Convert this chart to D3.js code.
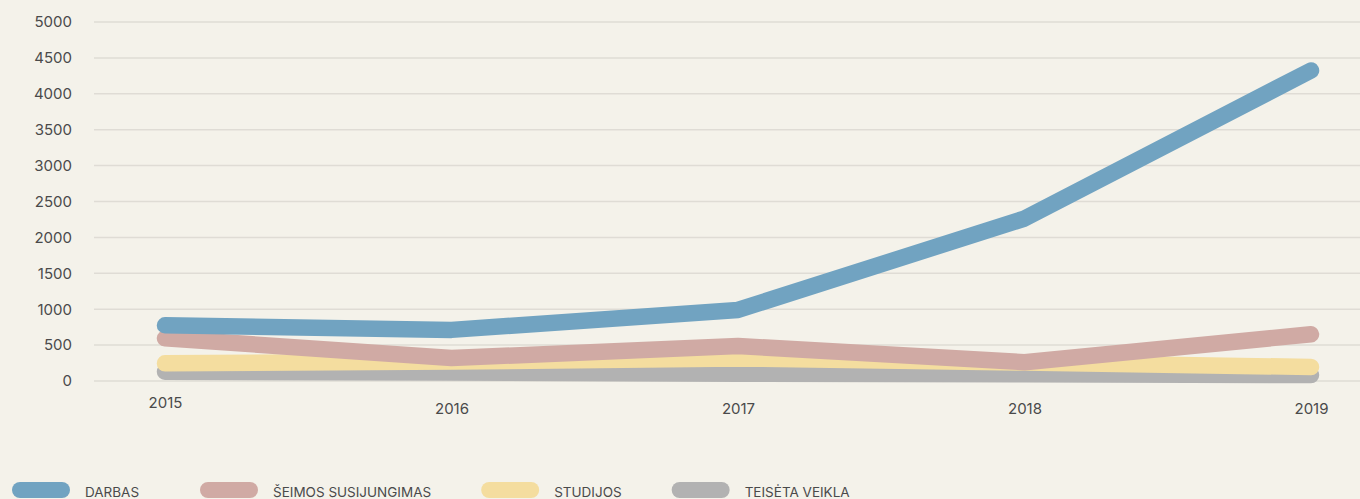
<!DOCTYPE html>
<html>
<head>
<meta charset="utf-8">
<script src="https://cdn.jsdelivr.net/npm/d3@7"></script>
<style>
  html, body { margin: 0; padding: 0; background: #f4f2ea; }
  svg { display: block; font-family: Inter, "Open Sans", sans-serif; }
</style>
</head>
<body>
<div id="chart"></div>
<script>
// metai
const years = ["2015", "2016", "2017", "2018", "2019"];
const yTicks = [0, 500, 1000, 1500, 2000, 2500, 3000, 3500, 4000, 4500, 5000];

const seriesNames = ["DARBAS", "ŠEIMOS SUSIJUNGIMAS", "STUDIJOS", "TEISĖTA VEIKLA"];
const seriesColors = ["#71a3c1", "#d0aaa4", "#f4dd9f", "#b2b2b2"];

const darbas = [775, 712, 990, 2263, 4325];
const seimos = [594, 320, 487, 262, 650];
const studijos = [246, 270, 315, 257, 195];
const teiseta = [129, 118, 100, 95, 83];

const allValues = [darbas, seimos, studijos, teiseta];

const W = 1360, H = 499;

const svg = d3.select("#chart").append("svg")
    .attr("width", W)
    .attr("height", H);

const x = d3.scalePoint()
    .domain(years)
    .range([165, 1311]);

const y = d3.scaleLinear()
    .domain([0, 5000])
    .range([381, 22]);

// tinklelis
svg.append("g")
    .selectAll("line")
    .data(yTicks)
    .enter()
    .append("line")
    .attr("x1", 94)
    .attr("x2", W)
    .attr("y1", d => y(d))
    .attr("y2", d => y(d))
    .attr("stroke", "#dfdcd5")
    .attr("stroke-width", 1.5);

const yAxis = svg.append("g")
    .attr("transform", "translate(72,0)")
    .call(d3.axisLeft(y).tickValues(yTicks).tickSize(0).tickPadding(0).tickFormat(d3.format("d")));
yAxis.select(".domain").remove();
yAxis.selectAll("text")
    .attr("font-family", "Inter, sans-serif")
    .attr("font-size", 15)
    .attr("fill", "#4a4a4a");

const xAxis = svg.append("g")
    .attr("transform", "translate(0,381)")
    .call(d3.axisBottom(x).tickSize(0).tickPadding(22));
xAxis.select(".domain").remove();
xAxis.selectAll("text")
    .attr("font-family", "Inter, sans-serif")
    .attr("font-size", 15)
    .attr("fill", "#4a4a4a")
    .attr("dy", (d, i) => i === 0 ? "0.35em" : "0.7em");

const line = d3.line()
    .x((d, i) => x(years[i]))
    .y(d => y(d));

// piesiam atvirkstine tvarka, kad darbas butu virsuje
const order = [3, 2, 1, 0];
svg.append("g")
    .selectAll("path")
    .data(order)
    .enter()
    .append("path")
    .attr("d", k => line(allValues[k]))
    .attr("fill", "none")
    .attr("stroke", k => seriesColors[k])
    .attr("stroke-width", 16.5)
    .attr("stroke-linecap", "round")
    .attr("stroke-linejoin", "round");

// legenda
const legend = svg.append("g").attr("transform", "translate(0,490)");
let lx = 12;
seriesNames.forEach((name, i) => {
    const g = legend.append("g").attr("transform", `translate(${lx},0)`);
    g.append("rect")
        .attr("x", 0)
        .attr("y", -8)
        .attr("width", 58)
        .attr("height", 16)
        .attr("rx", 8)
        .attr("fill", seriesColors[i]);
    const t = g.append("text")
        .attr("x", 73)
        .attr("y", 7)
        .attr("font-family", "Inter, sans-serif")
        .attr("font-size", 13.5)
        .attr("fill", "#4a4a4a")
        .text(name);
    const len = t.node().getComputedTextLength();
    lx += Math.max(73 + len + 50, 188);
});
</script>
</body>
</html>
